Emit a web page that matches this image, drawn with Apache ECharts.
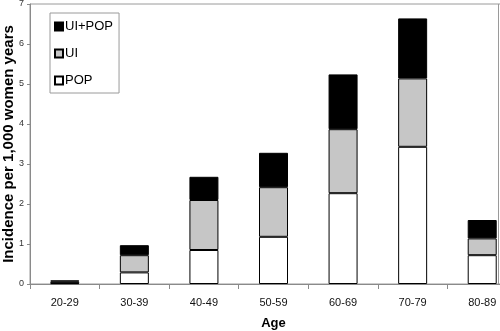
<!DOCTYPE html>
<html>
<head>
<meta charset="utf-8">
<script src="https://cdn.jsdelivr.net/npm/echarts@6/dist/echarts.min.js"></script>
<style>
  html, body { margin: 0; padding: 0; background: #fff; }
  #chart { width: 500px; height: 331px; }
</style>
</head>
<body>
<div id="chart"></div>
<script>
// Incidence of pelvic floor disorders per 1,000 women years, by age group
const ageGroups = ['20-29', '30-39', '40-49', '50-59', '60-69', '70-79', '80-89'];
const popValues   = [0.02, 0.29, 0.85, 1.18, 2.27, 3.43, 0.72];
const uiValues    = [0.04, 0.43, 1.25, 1.24, 1.60, 1.71, 0.42];
const uiPopValues = [0.03, 0.25, 0.58, 0.86, 1.37, 1.50, 0.46];
const yTicks = [0, 1, 2, 3, 4, 5, 6, 7];

const chart = echarts.init(document.getElementById('chart'), null, { renderer: 'canvas' });

const font = 'Arial, "Liberation Sans", Helvetica, sans-serif';
// The plot band runs past the right edge of the canvas; the last category is cut short.
const grid = { left: 30, top: 4, width: 487, height: 280 };

function stackSeries(name, data, fill) {
  return {
    name: name,
    type: 'bar',
    stack: 'total',
    data: data,
    barWidth: 29,
    itemStyle: { color: fill, borderColor: '#000', borderWidth: 1 },
    emphasis: { disabled: true }
  };
}

chart.setOption({
  animation: false,
  backgroundColor: '#fff',
  textStyle: { fontFamily: font },
  grid: Object.assign({
    show: true,
    borderColor: '#9a9a9a',
    borderWidth: 1,
    backgroundColor: 'transparent',
    containLabel: false,
    outerBoundsMode: 'none'
  }, grid),
  legend: {
    orient: 'vertical',
    left: 50,
    top: 13,
    data: ['UI+POP', 'UI', 'POP'],
    icon: 'rect',
    itemWidth: 8,
    itemHeight: 8,
    itemGap: 14,
    padding: [7, 6, 6, 4],
    borderColor: '#9a9a9a',
    borderWidth: 1,
    textStyle: { fontSize: 13, color: '#000', padding: [0, 0, 0, -3] }
  },
  xAxis: {
    type: 'category',
    data: ageGroups,
    name: 'Age',
    nameLocation: 'middle',
    nameGap: 33,
    nameMoveOverlap: false,
    nameTextStyle: { fontSize: 13, fontWeight: 'bold', color: '#000' },
    axisLine: { lineStyle: { color: '#8a8a8a', width: 1 } },
    axisTick: { show: true, interval: 0, length: 5, lineStyle: { color: '#8a8a8a' } },
    axisLabel: { fontSize: 11, color: '#111', margin: 13, interval: 0 }
  },
  yAxis: {
    type: 'value',
    min: yTicks[0],
    max: yTicks[yTicks.length - 1],
    interval: 1,
    name: 'Incidence per 1,000 women years',
    nameLocation: 'middle',
    nameGap: 14,
    nameMoveOverlap: false,
    nameTextStyle: { fontSize: 15, fontWeight: 'bold', color: '#000' },
    axisLine: { show: true, lineStyle: { color: '#8a8a8a', width: 1 } },
    axisTick: { show: true, length: 3, lineStyle: { color: '#8a8a8a' } },
    axisLabel: { fontSize: 9, color: '#333', margin: 6 },
    splitLine: { show: false }
  },
  graphic: [{
    type: 'line',
    shape: { x1: 498.5, y1: 4, x2: 498.5, y2: 284 },
    style: { stroke: '#9a9a9a', lineWidth: 1 },
    silent: true
  }],
  series: [
    stackSeries('POP', popValues, '#ffffff'),
    stackSeries('UI', uiValues, '#c6c6c6'),
    stackSeries('UI+POP', uiPopValues, '#000000')
  ]
});
</script>
</body>
</html>
